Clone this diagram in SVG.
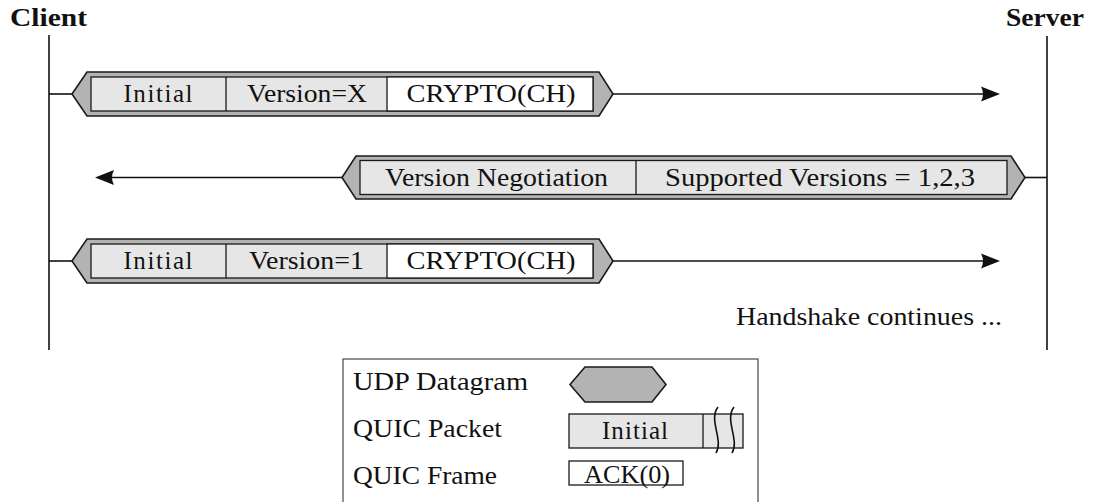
<svg xmlns="http://www.w3.org/2000/svg" width="1096" height="502" viewBox="0 0 1096 502">
<style>
text{font-family:"Liberation Serif","Times New Roman",serif;font-size:25px;fill:#111}
.b{font-weight:bold}
.m{text-anchor:middle}
.dg{fill:#b3b3b3;stroke:#1a1a1a;stroke-width:1.6;stroke-linejoin:miter}
.pk{fill:#e6e6e6;stroke:#1a1a1a;stroke-width:1.3}
.fr{fill:#fff;stroke:#1a1a1a;stroke-width:1.3}
.ln{stroke:#111;stroke-width:1.6;fill:none}
.ah{fill:#111}
</style>
<defs>
<path id="headR" d="M0,0 L-19,-7.5 Q-15,0 -19,7.5 Z"/>
</defs>

<g id="client">
<text class="b m" x="48.5" y="26" textLength="77" lengthAdjust="spacingAndGlyphs">Client</text>
<line class="ln" x1="49" y1="35" x2="49" y2="350"/>
</g>
<g id="server">
<text class="b m" x="1045" y="26" textLength="78" lengthAdjust="spacingAndGlyphs">Server</text>
<line class="ln" x1="1047" y1="36" x2="1047" y2="350"/>
</g>

<g id="connectors">
<line class="ln" x1="49" y1="94" x2="72" y2="94"/>
<line class="ln" x1="613" y1="94" x2="990" y2="94"/>
<use href="#headR" class="ah" transform="translate(1000,94)"/>
<line class="ln" x1="1025" y1="177.5" x2="1047" y2="177.5"/>
<line class="ln" x1="342" y1="177.5" x2="105" y2="177.5"/>
<use href="#headR" class="ah" transform="translate(95,177.5) rotate(180)"/>
<line class="ln" x1="49" y1="261" x2="72" y2="261"/>
<line class="ln" x1="613" y1="261" x2="990" y2="261"/>
<use href="#headR" class="ah" transform="translate(1000,261)"/>
</g>

<g id="msg1">
<polygon class="dg" points="72,94 87,72 599,72 613,94 599,116 87,116"/>
<rect class="pk" x="91" y="77" width="502" height="34"/>
<line class="pk" x1="226" y1="77" x2="226" y2="111"/>
<rect class="fr" x="387" y="77" width="206" height="34"/>
<text class="m" x="158" y="102" textLength="69" lengthAdjust="spacing">Initial</text>
<text class="m" x="307" y="102" textLength="120" lengthAdjust="spacingAndGlyphs">Version=X</text>
<text class="m" x="491" y="102" textLength="169" lengthAdjust="spacingAndGlyphs">CRYPTO(CH)</text>
</g>

<g id="msg2">
<polygon class="dg" points="342,177.5 356,156 1011,156 1025,177.5 1011,199 356,199"/>
<rect class="pk" x="360" y="160.5" width="647" height="34"/>
<line class="pk" x1="636" y1="160.5" x2="636" y2="194.5"/>
<text class="m" x="496.5" y="185.5" textLength="223" lengthAdjust="spacingAndGlyphs">Version Negotiation</text>
<text class="m" x="820" y="185.5" textLength="310" lengthAdjust="spacingAndGlyphs">Supported Versions = 1,2,3</text>
</g>

<g id="msg3">
<polygon class="dg" points="72,261 87,239 599,239 613,261 599,283 87,283"/>
<rect class="pk" x="91" y="244" width="502" height="34"/>
<line class="pk" x1="226" y1="244" x2="226" y2="278"/>
<rect class="fr" x="387" y="244" width="206" height="34"/>
<text class="m" x="158" y="269" textLength="69" lengthAdjust="spacing">Initial</text>
<text class="m" x="306.5" y="269" textLength="115" lengthAdjust="spacingAndGlyphs">Version=1</text>
<text class="m" x="491" y="269" textLength="169" lengthAdjust="spacingAndGlyphs">CRYPTO(CH)</text>
</g>

<g id="note">
<text x="736" y="325" textLength="266" lengthAdjust="spacingAndGlyphs">Handshake continues ...</text>
</g>

<g id="legend">
<rect x="343" y="359" width="415" height="150" fill="#fff" stroke="#555" stroke-width="1.3"/>
<text x="353" y="390" textLength="175" lengthAdjust="spacingAndGlyphs">UDP Datagram</text>
<text x="353" y="437" textLength="149" lengthAdjust="spacingAndGlyphs">QUIC Packet</text>
<text x="353" y="484" textLength="144" lengthAdjust="spacingAndGlyphs">QUIC Frame</text>
<polygon class="dg" points="570,384.5 585,367 652,367 666,384.5 652,402 585,402"/>
<rect class="pk" x="569" y="414" width="174" height="34"/>
<line class="pk" x1="703" y1="414" x2="703" y2="448"/>
<path class="ln" stroke-width="1.2" d="M718,407 C708,420 724,440 716,453"/>
<path class="ln" stroke-width="1.2" d="M734,407 C724,420 740,440 732,453"/>
<text class="m" x="635" y="439" textLength="66" lengthAdjust="spacing">Initial</text>
<rect class="fr" x="569" y="461" width="114" height="24"/>
<text class="m" x="627" y="483" textLength="86" lengthAdjust="spacingAndGlyphs">ACK(0)</text>
</g>
</svg>
